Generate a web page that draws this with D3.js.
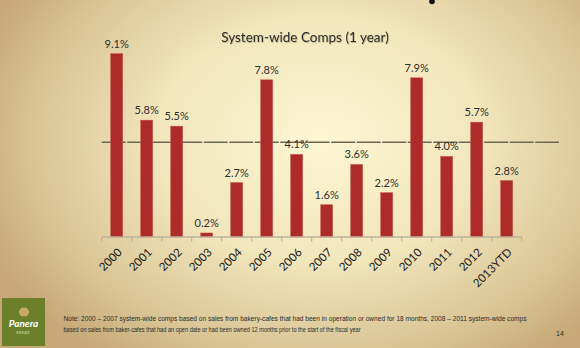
<!DOCTYPE html>
<html>
<head>
<meta charset="utf-8">
<script src="https://cdn.jsdelivr.net/npm/d3@7"></script>
<style>
  html, body { margin: 0; padding: 0; overflow: hidden; }
  svg { display: block; }
</style>
</head>
<body>
<script>
// chart data
const years = ['2000', '2001', '2002', '2003', '2004', '2005', '2006',
               '2007', '2008', '2009', '2010', '2011', '2012', '2013YTD'];
const comps = [9.1, 5.8, 5.5, 0.2, 2.7, 7.8, 4.1, 1.6, 3.6, 2.2, 7.9, 4.0, 5.7, 2.8];
const avgLine = [4.7];

const title = 'System-wide Comps (1 year)';
const noteLines = [
  'Note: 2000 \u2013 2007 system-wide comps based on sales from bakery-cafes  that had been in operation or owned for 18 months, 2008 \u2013 2011 system-wide comps',
  'based on sales from baker-cafes that had an open date or had been owned 12 months prior to the start of the fiscal year'
];
const pageNum = '14';

const width  = 580;
const height = 348;

const svg = d3.select('body')
  .append('svg')
    .attr('width', width)
    .attr('height', height);

// background gradient
const defs = svg.append('defs');
const bg = defs.append('radialGradient')
  .attr('id', 'bg')
  .attr('gradientUnits', 'userSpaceOnUse')
  .attr('cx', 320).attr('cy', 140).attr('r', 360)
  .attr('gradientTransform', 'translate(320,140) scale(1,0.75) translate(-320,-140)');
bg.append('stop').attr('offset', 0).attr('stop-color', '#fcf6d3');
bg.append('stop').attr('offset', 0.45).attr('stop-color', '#f2e6bb');
bg.append('stop').attr('offset', 0.8).attr('stop-color', '#d9c495');
bg.append('stop').attr('offset', 1).attr('stop-color', '#c6a977');

svg.append('rect')
  .attr('width', width)
  .attr('height', height)
  .attr('fill', 'url(#bg)');

const shadow = defs.append('filter').attr('id', 'shadow');
shadow.append('feDropShadow')
  .attr('dx', 0.6).attr('dy', 0.8).attr('stdDeviation', 0.4)
  .attr('flood-color', '#8a7d55').attr('flood-opacity', 0.6);

// small stray dot at the top
svg.append('circle')
  .attr('cx', 432).attr('cy', 1.5).attr('r', 2.8)
  .attr('fill', '#111');

// scales
const x = d3.scaleBand()
  .domain(years)
  .range([101.7, 521.7])
  .paddingInner(0.6)
  .paddingOuter(0.3);

const y = d3.scaleLinear()
  .domain([0, 10])
  .range([237, 35.5]);

const step = x.step();
const x0 = x.range()[0];

// title
svg.append('text')
  .attr('x', 305)
  .attr('y', 42)
  .attr('text-anchor', 'middle')
  .attr('font-family', 'Lato, "Open Sans", sans-serif')
  .attr('font-size', 13.5)
  .attr('fill', '#2a2a2a')
  .attr('filter', 'url(#shadow)')
  .text(title);

// dashed average line (behind the bars)
svg.selectAll('line.avg')
  .data(avgLine)
  .join('line')
    .attr('class', 'avg')
    .attr('x1', x0)
    .attr('x2', 559)
    .attr('y1', (d) => y(d))
    .attr('y2', (d) => y(d))
    .attr('stroke', '#6c6854')
    .attr('stroke-width', 1.4)
    .attr('stroke-dasharray', '24,1.5');

// bars
svg.selectAll('rect.bar')
  .data(comps)
  .join('rect')
    .attr('class', 'bar')
    .attr('x', (d, i) => x(years[i]))
    .attr('y', (d) => y(d))
    .attr('width', x.bandwidth())
    .attr('height', (d) => y(0) - y(d))
    .attr('fill', '#ad2b28')
    .attr('stroke', '#c4524a')
    .attr('stroke-width', 0.5);

// value labels
svg.selectAll('text.val')
  .data(comps)
  .join('text')
    .attr('class', 'val')
    .attr('x', (d, i) => x(years[i]) + x.bandwidth() / 2)
    .attr('y', (d) => y(d) - 6)
    .attr('text-anchor', 'middle')
    .attr('font-family', 'Lato, "Open Sans", sans-serif')
    .attr('font-size', 11)
    .attr('fill', '#2e2e2e')
    .text((d) => d.toFixed(1) + '%');

// axis line + ticks at band edges
svg.append('line')
  .attr('x1', x0)
  .attr('x2', x0 + step * years.length)
  .attr('y1', y(0))
  .attr('y2', y(0))
  .attr('stroke', '#bcb39b')
  .attr('stroke-width', 1.4);

svg.selectAll('line.tick')
  .data(d3.range(years.length + 1))
  .join('line')
    .attr('class', 'tick')
    .attr('x1', (i) => x0 + step * i)
    .attr('x2', (i) => x0 + step * i)
    .attr('y1', y(0))
    .attr('y2', y(0) + 4.5)
    .attr('stroke', '#bcb39b')
    .attr('stroke-width', 1.2);

// category labels, rotated
svg.selectAll('text.cat')
  .data(years)
  .join('text')
    .attr('class', 'cat')
    .attr('transform', (d) => `translate(${x(d) + x.bandwidth() / 2 + 6},${y(0) + 16}) rotate(-45)`)
    .attr('text-anchor', 'end')
    .attr('font-family', 'Lato, "Open Sans", sans-serif')
    .attr('font-size', 11.5)
    .attr('fill', '#1a1a1a')
    .text((d) => d);

// footnote
svg.selectAll('text.note')
  .data(noteLines)
  .join('text')
    .attr('class', 'note')
    .attr('x', 63.5)
    .attr('y', (d, i) => 321 + i * 10.5)
    .attr('font-family', '"Liberation Sans", Arial, sans-serif')
    .attr('font-size', 6.4)
    .attr('fill', '#2b2b2b')
    .attr('textLength', (d, i) => i === 0 ? 463 : 297)
    .attr('lengthAdjust', 'spacingAndGlyphs')
    .text((d) => d);

svg.append('text')
  .attr('x', 560)
  .attr('y', 336)
  .attr('text-anchor', 'middle')
  .attr('font-family', '"Liberation Sans", Arial, sans-serif')
  .attr('font-size', 7)
  .attr('fill', '#2b2b2b')
  .text(pageNum);

// logo block
const logo = svg.append('g').attr('transform', 'translate(2,298)');
logo.append('rect')
  .attr('width', 43)
  .attr('height', 48)
  .attr('fill', '#6c7f2b');
logo.append('ellipse')
  .attr('cx', 22).attr('cy', 14)
  .attr('rx', 5).attr('ry', 4.5)
  .attr('fill', '#c9a867');
logo.append('text')
  .attr('x', 21.5).attr('y', 29)
  .attr('text-anchor', 'middle')
  .attr('font-family', 'Lato, sans-serif')
  .attr('font-style', 'italic')
  .attr('font-weight', 'bold')
  .attr('font-size', 10)
  .attr('fill', '#ffffff')
  .text('Panera');
logo.append('text')
  .attr('x', 21.5).attr('y', 36)
  .attr('text-anchor', 'middle')
  .attr('font-family', 'Lato, sans-serif')
  .attr('font-size', 3)
  .attr('letter-spacing', 0.8)
  .attr('fill', '#e8ecd6')
  .text('BREAD');
</script>
</body>
</html>
